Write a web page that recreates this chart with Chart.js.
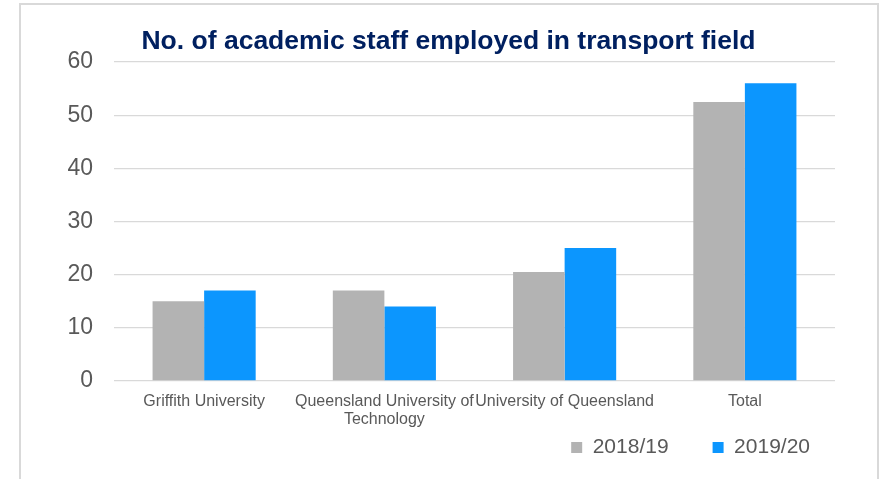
<!DOCTYPE html>
<html>
<head>
<meta charset="utf-8">
<script src="https://cdn.jsdelivr.net/npm/chart.js@4"></script>
<style>
  html, body { margin: 0; padding: 0; background: #ffffff; }
  #wrap { position: relative; width: 883px; height: 479px; overflow: hidden; }
  #frame { position: absolute; left: 19px; top: 3px; width: 860px; height: 600px;
           border: 2px solid #d9d9d9; box-sizing: border-box; }
  #c { position: absolute; left: 0; top: 0; }
</style>
</head>
<body>
<div id="wrap">
  <div id="frame"></div>
  <canvas id="c" width="883" height="479"></canvas>
</div>
<script>
const chartTitle = 'No. of academic staff employed in transport field';
const categories = [
  'Griffith University',
  ['Queensland University of', 'Technology'],
  'University of Queensland',
  'Total'
];
const seriesNames = ['2018/19', '2019/20'];
const values2018 = [15, 17, 20.5, 52.5];
const values2019 = [17, 14, 25, 56];
const yMin = 0, yMax = 60, yStep = 10;

// nudge the legend block into the reference position (layout only)
const legendShift = {
  id: 'legendShift',
  afterLayout(chart) {
    const lg = chart.legend;
    if (lg) {
      lg.left += 19; lg.right += 19;
      lg.top -= 56;
      lg.bottom = lg.top + 94;
      lg.height = lg.bottom - lg.top;
    }
  }
};

new Chart(document.getElementById('c'), {
  type: 'bar',
  data: {
    labels: categories,
    datasets: [
      { label: seriesNames[0], data: values2018, backgroundColor: '#b3b3b3',
        barPercentage: 1, categoryPercentage: 0.572 },
      { label: seriesNames[1], data: values2019, backgroundColor: '#0c96fe',
        barPercentage: 1, categoryPercentage: 0.572 }
    ]
  },
  plugins: [legendShift],
  options: {
    responsive: false,
    animation: false,
    layout: { padding: { left: 62, right: 48, top: 0, bottom: 0 } },
    plugins: {
      tooltip: { enabled: false },
      title: {
        display: true,
        text: chartTitle,
        color: '#002060',
        font: { family: '"Liberation Sans", Arial, sans-serif', size: 26.5, weight: 'bold', lineHeight: 1.2 },
        padding: { top: 26, bottom: 4.2 }
      },
      legend: {
        position: 'bottom',
        align: 'end',
        maxHeight: 30,
        labels: {
          color: '#595959',
          font: { family: '"Liberation Sans", Arial, sans-serif', size: 21 },
          boxWidth: 11,
          boxHeight: 11,
          padding: 44
        }
      }
    },
    scales: {
      x: {
        grid: { display: false },
        border: { display: false },
        ticks: {
          color: '#595959',
          font: { family: '"Liberation Sans", Arial, sans-serif', size: 16, lineHeight: 1.1 },
          maxRotation: 0, minRotation: 0, autoSkip: false, padding: 4
        },
        afterFit(scale) { scale.height = 68; }
      },
      y: {
        min: yMin, max: yMax,
        grid: { color: '#d9d9d9', lineWidth: 1.3, drawTicks: false },
        border: { display: false },
        ticks: {
          stepSize: yStep,
          color: '#595959',
          font: { family: '"Liberation Sans", Arial, sans-serif', size: 23 },
          padding: 21
        },
        afterFit(scale) { scale.width = 52; }
      }
    }
  }
});
</script>
</body>
</html>
